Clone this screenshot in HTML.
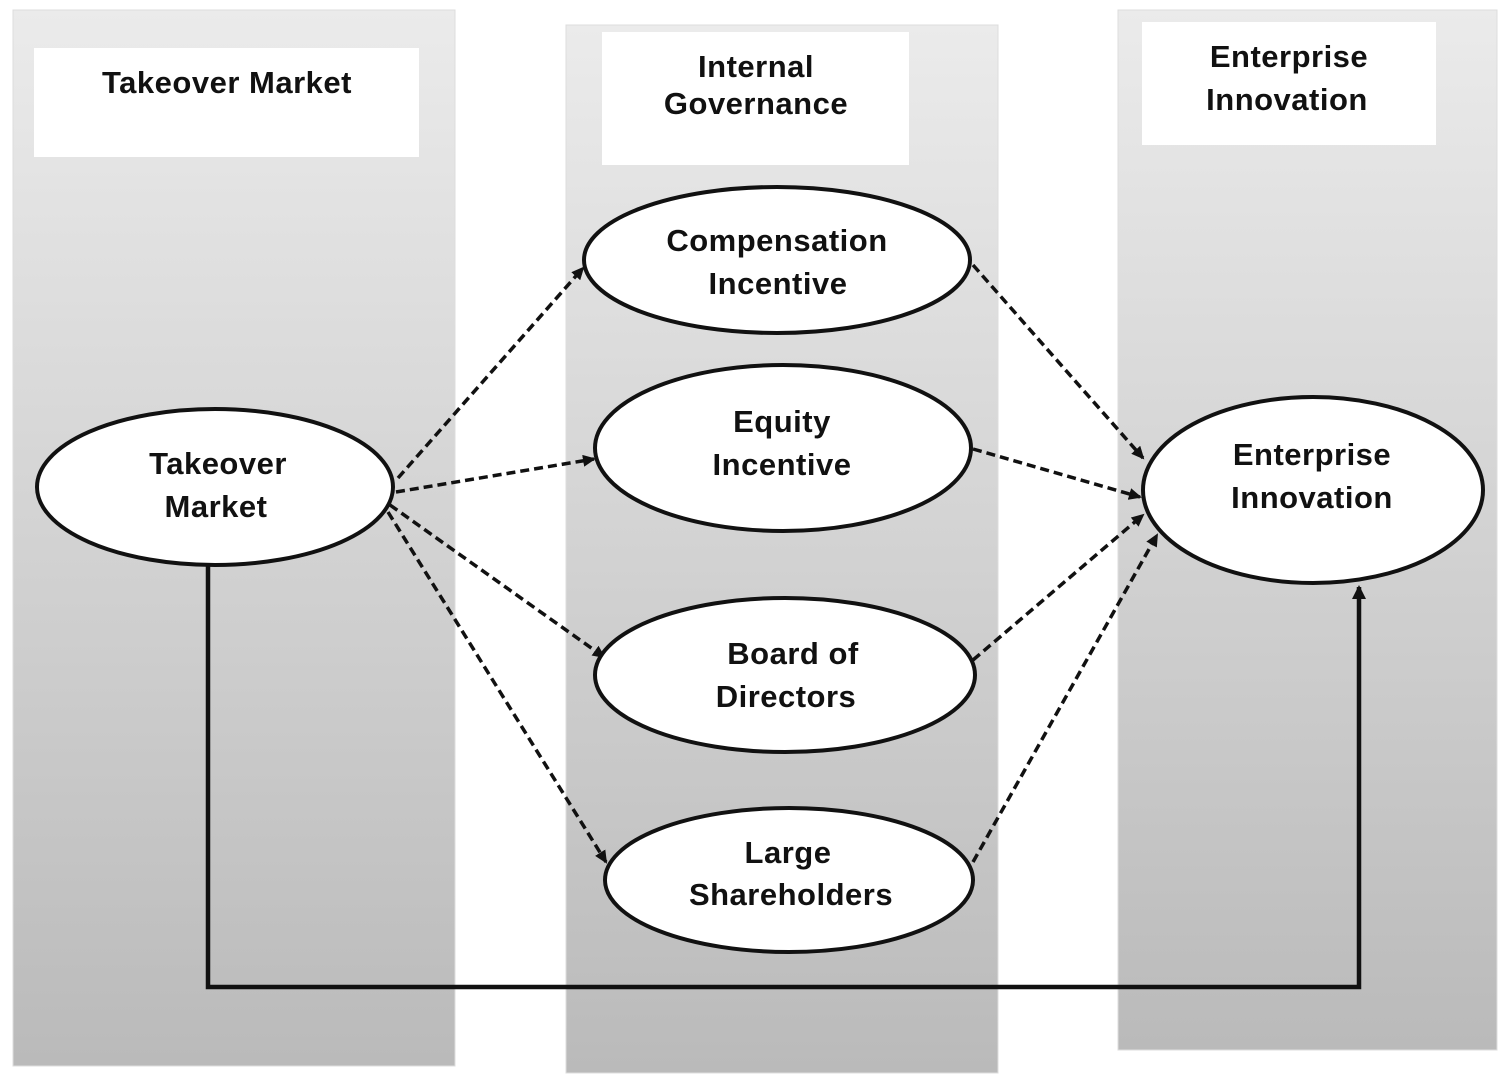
<!DOCTYPE html>
<html><head><style>
body{margin:0;width:1500px;height:1076px;background:#fff;overflow:hidden}
svg text{font-family:"Liberation Sans",Arial,sans-serif;font-weight:bold;font-size:31px;letter-spacing:0.5px;text-anchor:middle;fill:#111}
</style></head><body>
<svg width="1500" height="1076" viewBox="0 0 1500 1076">
<defs>
<linearGradient id="g" x1="0" y1="0" x2="0" y2="1">
<stop offset="0" stop-color="#ebebeb"/><stop offset="1" stop-color="#bababa"/>
</linearGradient>
<marker id="a" markerWidth="13" markerHeight="12" refX="11" refY="6" orient="auto" markerUnits="userSpaceOnUse">
<path d="M0,0 L13,6 L0,12 z" fill="#111"/></marker>
<marker id="b" markerWidth="14" markerHeight="14" refX="12" refY="7" orient="auto" markerUnits="userSpaceOnUse">
<path d="M0,0 L14,7 L0,14 z" fill="#111"/></marker>
</defs>
<rect x="13" y="10" width="442" height="1056" fill="url(#g)" stroke="#ddd"/>
<rect x="566" y="25" width="432" height="1048" fill="url(#g)" stroke="#ddd"/>
<rect x="1118" y="10" width="379" height="1040" fill="url(#g)" stroke="#ddd"/>
<rect x="34" y="48" width="385" height="109" fill="#fff"/>
<rect x="602" y="32" width="307" height="133" fill="#fff"/>
<rect x="1142" y="22" width="294" height="123" fill="#fff"/>
<text x="227" y="93">Takeover Market</text>
<text x="756" y="77">Internal</text><text x="756" y="114">Governance</text>
<text x="1289" y="67">Enterprise</text><text x="1287" y="110">Innovation</text>
<g stroke="#111" stroke-width="3.5" stroke-dasharray="9,5" fill="none">
<line x1="398" y1="478" x2="583" y2="268" marker-end="url(#a)"/>
<line x1="396" y1="492" x2="594" y2="459" marker-end="url(#a)"/>
<line x1="390" y1="505" x2="604" y2="657" marker-end="url(#a)"/>
<line x1="388" y1="512" x2="606" y2="862" marker-end="url(#a)"/>
<line x1="973" y1="265" x2="1143" y2="458" marker-end="url(#a)"/>
<line x1="973" y1="449" x2="1140" y2="497" marker-end="url(#a)"/>
<line x1="973" y1="660" x2="1143" y2="515" marker-end="url(#a)"/>
<line x1="973" y1="862" x2="1157" y2="535" marker-end="url(#a)"/>
</g>
<polyline points="208,565 208,987 1359,987 1359,587" fill="none" stroke="#111" stroke-width="4.5" marker-end="url(#b)"/>
<g fill="#fff" stroke="#111" stroke-width="4">
<ellipse cx="215" cy="487" rx="178" ry="78"/>
<ellipse cx="777" cy="260" rx="193" ry="73"/>
<ellipse cx="783" cy="448" rx="188" ry="83"/>
<ellipse cx="785" cy="675" rx="190" ry="77"/>
<ellipse cx="789" cy="880" rx="184" ry="72"/>
<ellipse cx="1313" cy="490" rx="170" ry="93"/>
</g>
<text x="218" y="474">Takeover</text><text x="216" y="517">Market</text>
<text x="777" y="251">Compensation</text><text x="778" y="294">Incentive</text>
<text x="782" y="432">Equity</text><text x="782" y="475">Incentive</text>
<text x="793" y="664">Board of</text><text x="786" y="707">Directors</text>
<text x="788" y="863">Large</text><text x="791" y="905">Shareholders</text>
<text x="1312" y="465">Enterprise</text><text x="1312" y="508">Innovation</text>
</svg>
</body></html>
